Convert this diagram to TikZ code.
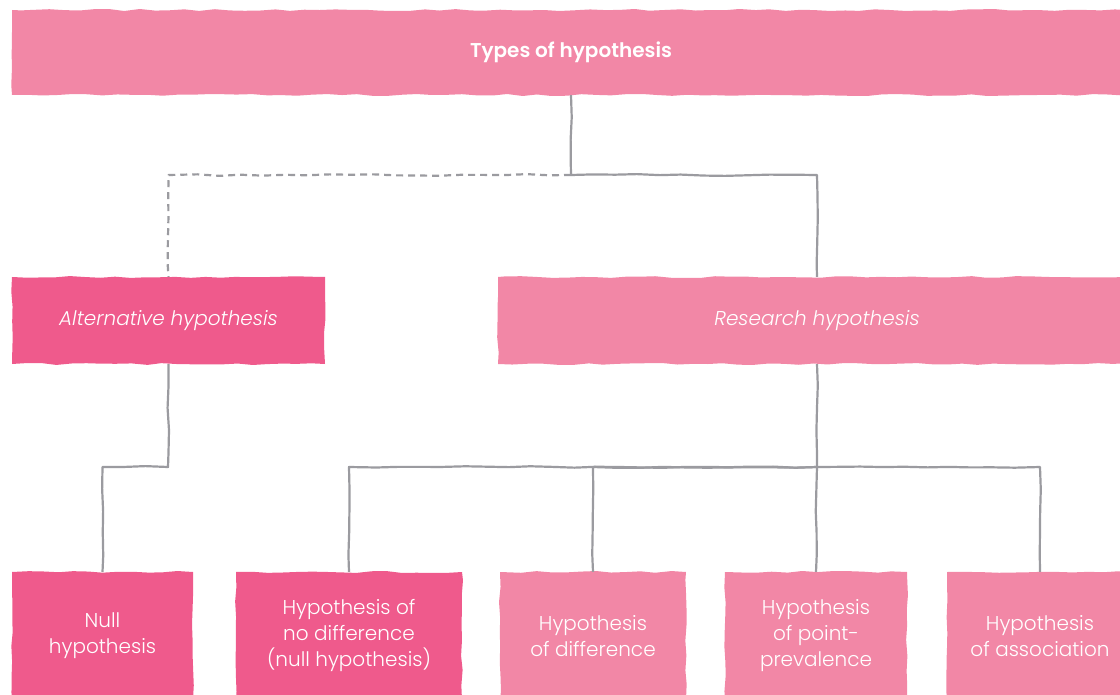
\documentclass[tikz,border=0pt]{standalone}
\usepackage{fontspec}
\setmainfont{Poppins}[UprightFont={* Light}, ItalicFont={* Light Italic}, BoldFont={* SemiBold}]
\usetikzlibrary{decorations.pathmorphing}
\definecolor{pinkdark}{HTML}{EF5A8C}
\definecolor{pinklight}{HTML}{F287A6}
\definecolor{wire}{HTML}{9B9BA0}
\begin{document}
\pgfmathsetseed{7}
\begin{tikzpicture}[x=1pt,y=-1pt,
  brush/.style={fill=#1, draw=none, text=white, align=center,
    inner sep=0pt, anchor=center,
    decorate, decoration={random steps, segment length=15pt, amplitude=1pt},
    font=\fontsize{20}{26}\selectfont},
  conn/.style={draw=wire, line width=2.2pt, line join=round,
    decorate, decoration={random steps, segment length=22pt, amplitude=0.9pt}},
  dashconn/.style={conn, dash pattern=on 7pt off 5pt}]
\useasboundingbox (0,0) rectangle (1120,695);
\clip (0,0) rectangle (1120,695);

% boxes
\node[brush=pinklight, minimum width=1118pt, minimum height=85pt,
  font=\fontsize{20}{26}\selectfont\bfseries] (title) at (571,52.5) {Types of hypothesis};
\node[brush=pinkdark, minimum width=313pt, minimum height=87pt,
  font=\fontsize{20}{26}\selectfont\itshape] (alt) at (168.5,320.5) {Alternative hypothesis};
\node[brush=pinklight, minimum width=638pt, minimum height=87pt,
  font=\fontsize{20}{26}\selectfont\itshape] (res) at (817,320.5) {Research hypothesis};

\node[brush=pinkdark, minimum width=181pt, minimum height=128pt] (null) at (102.5,636) {Null\\hypothesis};
\node[brush=pinkdark, minimum width=226pt, minimum height=128pt] (nodiff) at (349,636) {Hypothesis of\\no difference\\(null hypothesis)};
\node[brush=pinklight, minimum width=186pt, minimum height=128pt] (diff) at (593,636) {Hypothesis\\of difference};
\node[brush=pinklight, minimum width=182pt, minimum height=128pt] (point) at (816,636) {Hypothesis\\of point-\\prevalence};
\node[brush=pinklight, minimum width=186pt, minimum height=128pt] (assoc) at (1040,636) {Hypothesis\\of association};

% junctions
\coordinate (top) at (571,175);
\coordinate (aj) at (168,467);
\coordinate (rj) at (817,467);

% connectors
\draw[conn] (title.south) -- (top) -| (res.north);
\draw[dashconn] (top) -| (alt.north);
\draw[conn] (alt.south) -- (aj) -| (null.north);
\draw[conn] (res.south) -- (rj);
\draw[conn] (rj) -| (nodiff.north);
\draw[conn] (rj) -| (diff.north);
\draw[conn] (rj) -- (point.north);
\draw[conn] (rj) -| (assoc.north);
\end{tikzpicture}
\end{document}
